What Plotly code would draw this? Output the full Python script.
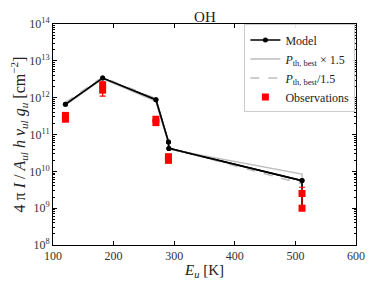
import plotly.graph_objects as go

# ---- data ----
E_model = [120.5, 181.9, 269.8, 290.5, 291.2, 510.9, 511.0]
model = [6.6e11, 3.4e12, 8.8e11, 6.3e10, 4.2e10, 5.6e9, 1.0e9]
pth_x15 = [6.3e11, 3.3e12, 8.0e11, 6.0e10, 4.0e10, 8.4e9, 1.5e9]
pth_d15 = [7.4e11, 3.6e12, 9.5e11, 6.3e10, 4.3e10, 4.6e9, 0.9e9]

E_obs = [120.5, 120.5, 181.9, 181.9, 269.8, 269.8, 290.5, 290.5, 510.9, 510.9]
obs = [3.3e11, 2.6e11, 2.2e12, 1.6e12, 2.6e11, 2.1e11, 2.5e10, 2.0e10, 2.5e9, 1.0e9]
obs_err_hi = [0.3e11, 0.3e11, 0.5e12, 0.3e12, 0.3e11, 0.3e11, 0.3e10, 0.3e10, 1.2e9, 0.15e9]
obs_err_lo = [0.3e11, 0.3e11, 0.3e12, 0.5e12, 0.3e11, 0.3e11, 0.3e10, 0.3e10, 1.4e9, 0.15e9]

y_tickvals = [1e8, 1e9, 1e10, 1e11, 1e12, 1e13, 1e14]
y_ticktext = ["10<sup>8</sup>", "10<sup>9</sup>", "10<sup>10</sup>", "10<sup>11</sup>",
              "10<sup>12</sup>", "10<sup>13</sup>", "10<sup>14</sup>"]
x_tickvals = [100, 200, 300, 400, 500, 600]

FONT = "Liberation Serif, DejaVu Serif, serif"

fig = go.Figure()
fig.add_trace(go.Scatter(
    x=E_model, y=model, mode="lines+markers", name="Model",
    line=dict(color="black", width=1.6), marker=dict(color="black", size=5)))
fig.add_trace(go.Scatter(
    x=E_model, y=pth_x15, mode="lines",
    name="<i>P</i><sub>th, best</sub> × 1.5",
    line=dict(color="#bdbdbd", width=1.5)))
fig.add_trace(go.Scatter(
    x=E_model, y=pth_d15, mode="lines",
    name="<i>P</i><sub>th, best</sub>/1.5",
    line=dict(color="#bdbdbd", width=1.5, dash="dash")))
# re-draw model on top of gray lines (no legend)
fig.add_trace(go.Scatter(
    x=E_model, y=model, mode="lines+markers", showlegend=False,
    line=dict(color="black", width=1.6), marker=dict(color="black", size=5)))
fig.add_trace(go.Scatter(
    x=E_obs, y=obs, mode="markers", name="Observations",
    marker=dict(color="red", symbol="square", size=7),
    error_y=dict(type="data", array=obs_err_hi, arrayminus=obs_err_lo,
                 color="red", thickness=1.2, width=3)))

fig.data[0].legendrank = 1
fig.data[1].legendrank = 2
fig.data[2].legendrank = 3
fig.data[4].legendrank = 4

axis_common = dict(showline=True, linecolor="black", linewidth=1, mirror="allticks",
                   ticks="inside", tickcolor="black", showgrid=False, zeroline=False,
                   automargin=False,
                   tickfont=dict(family=FONT, size=12, color="#333"))

fig.update_xaxes(range=[100, 600], tickvals=x_tickvals, ticklen=4,
                 title=dict(text="<i>E</i><sub><i>u</i></sub> [K]",
                            font=dict(family=FONT, size=15, color="#222"), standoff=3),
                 **axis_common)
fig.update_yaxes(type="log", range=[8, 14], tickvals=y_tickvals, ticktext=y_ticktext,
                 ticklen=4,
                 minor=dict(ticks="inside", ticklen=2, tickcolor="black", dtick="D1", showgrid=False),
                 title=dict(text="4 π <i>I</i> / <i>A</i><sub><i>ul</i></sub> <i>h</i> <i>ν</i><sub><i>ul</i></sub> <i>g</i><sub><i>u</i></sub> [cm<sup>−2</sup>]",
                            font=dict(family=FONT, size=16, color="#222"), standoff=2),
                 **axis_common)

# page body has an 8px margin, so the figure is sized to fit the 374x288 window
fig.update_layout(
    width=358, height=272,
    margin=dict(l=45, r=10, t=16, b=35),
    paper_bgcolor="white", plot_bgcolor="white",
    title=dict(text="OH", x=0.55, xanchor="center", y=0.988, yanchor="top",
               font=dict(family=FONT, size=15, color="#222")),
    font=dict(family=FONT, color="#222"),
    legend=dict(x=0.998, y=0.998, xanchor="right", yanchor="top",
                bgcolor="rgba(255,255,255,0.9)", bordercolor="#cccccc", borderwidth=1,
                font=dict(family=FONT, size=12, color="#222"),
                itemwidth=30, tracegroupgap=0),
)

fig.write_html("out.html")
